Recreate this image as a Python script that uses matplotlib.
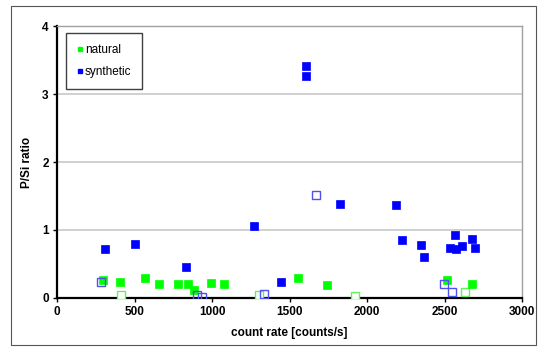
import matplotlib
matplotlib.use('Agg')
import matplotlib.pyplot as plt
from matplotlib.patches import Rectangle
from matplotlib.lines import Line2D

plt.rcParams['font.family'] = ['Liberation Sans', 'DejaVu Sans']

# ---------- Data ----------
syn_x = [311, 506, 831, 1273, 1442, 1605, 1605, 1824, 2185, 2226, 2348, 2366,
         2533, 2564, 2576, 2614, 2675, 2697]
syn_y = [0.72, 0.80, 0.46, 1.06, 0.24, 3.41, 3.27, 1.38, 1.37, 0.85, 0.78, 0.60,
         0.74, 0.92, 0.72, 0.76, 0.87, 0.74]

syn_open_x = [284, 901, 937, 1336, 1673, 2497, 2544]
syn_open_y = [0.24, 0.05, 0.01, 0.06, 1.52, 0.21, 0.08]

nat_x = [296, 404, 569, 655, 783, 842, 883, 993, 1074, 1553, 1740, 2512, 2675]
nat_y = [0.26, 0.23, 0.30, 0.20, 0.20, 0.20, 0.12, 0.22, 0.20, 0.29, 0.19, 0.26, 0.21]

nat_open_x = [413, 1302, 1923, 2634]
nat_open_y = [0.04, 0.04, 0.03, 0.09]

BLUE = '#0000FF'
GREEN = '#00FF00'

fig = plt.figure(figsize=(5.48, 3.53), dpi=100)
ax = fig.add_axes([0.104, 0.156, 0.849, 0.770])

# outer chart border
fig.patches.append(Rectangle((0.020, 0.023), 0.958, 0.960, transform=fig.transFigure,
                             fill=False, edgecolor='#555555', linewidth=0.8))

ms = 6.3
ax.plot(nat_open_x, nat_open_y, 's', ms=ms - 0.9, mfc='white', mec='#60F060', mew=1.0,
        linestyle='none', zorder=3)
ax.plot(nat_x, nat_y, 's', ms=ms, mfc=GREEN, mec=GREEN, mew=0.5, linestyle='none',
        zorder=4)
ax.plot(syn_open_x, syn_open_y, 's', ms=ms - 0.9, mfc='none', mec='#5050F0', mew=1.0,
        linestyle='none', zorder=5)
ax.plot(syn_x, syn_y, 's', ms=ms, mfc=BLUE, mec=BLUE, mew=0.5, linestyle='none',
        zorder=4)

ax.set_xlim(0, 3000)
ax.set_ylim(0, 4)
ax.set_xticks([0, 500, 1000, 1500, 2000, 2500, 3000])
ax.set_yticks([0, 1, 2, 3, 4])
for yv in [1, 2, 3]:
    ax.axhline(yv, color='#C8C8C8', linewidth=1.2, zorder=1)

ax.tick_params(direction='out', length=3, width=1, labelsize=8.5, pad=3)
for lab in ax.get_xticklabels() + ax.get_yticklabels():
    lab.set_fontweight('bold')

ax.spines['left'].set_linewidth(1.6)
ax.spines['bottom'].set_linewidth(1.6)
ax.spines['top'].set_color('#A0A0A0')
ax.spines['right'].set_color('#A0A0A0')
ax.spines['top'].set_linewidth(1.0)
ax.spines['right'].set_linewidth(1.0)

ax.set_xlabel('count rate [counts/s]', fontsize=8.5, fontweight='bold', labelpad=6)
ax.set_ylabel('P/Si ratio', fontsize=8.5, fontweight='bold')
ax.yaxis.set_label_coords(-0.052, 0.5)

handles = [Line2D([], [], marker='s', color=GREEN, linestyle='none', ms=3.5),
           Line2D([], [], marker='s', color=BLUE, linestyle='none', ms=3.5)]
leg = ax.legend(handles, ['natural', 'synthetic'], loc='upper left',
                bbox_to_anchor=(0.019, 0.975), fontsize=8.5, handlelength=0.5,
                handletextpad=0.15, labelspacing=0.85, borderpad=0.95,
                fancybox=False, framealpha=1, borderaxespad=0)
leg.get_frame().set_edgecolor('#404040')
leg.get_frame().set_linewidth(1.0)

fig.savefig('out.png', dpi=100)
